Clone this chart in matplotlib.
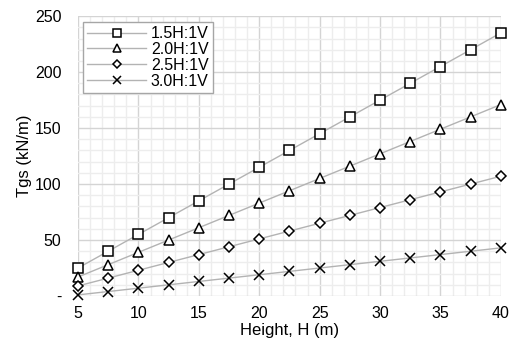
import numpy as np
import matplotlib
matplotlib.use('Agg')
from matplotlib import pyplot as plt
from matplotlib.ticker import MultipleLocator, FuncFormatter

plt.rcParams['font.family'] = ['Liberation Sans', 'DejaVu Sans']

height = [5, 7.5, 10, 12.5, 15, 17.5, 20, 22.5, 25, 27.5, 30, 32.5, 35, 37.5, 40]
slope_15 = [25, 40, 55, 70, 85, 100, 115, 130, 145, 160, 175, 190, 205, 220, 235]
slope_20 = [17, 28, 39, 50, 61, 72, 83, 94, 105, 116, 127, 138, 149, 160, 171]
slope_25 = [9, 16, 23, 30, 37, 44, 51, 58, 65, 72, 79, 86, 93, 100, 107]
slope_30 = [1, 4, 7, 10, 13, 16, 19, 22, 25, 28, 31, 34, 37, 40, 43]

labels = ['1.5H:1V', '2.0H:1V', '2.5H:1V', '3.0H:1V']
markers = ['s', '^', 'D', 'x']
sizes = [7.5, 7.5, 5.5, 7.5]

fig = plt.figure(figsize=(5.1, 3.43), dpi=100)
ax = fig.add_axes([0.153, 0.137, 0.829, 0.816])

for ys, lab, m, ms in zip([slope_15, slope_20, slope_25, slope_30], labels, markers, sizes):
    ax.plot(height, ys, color='#b3b3b3', lw=1.0, marker=m, ms=ms,
            mfc='white', mec='black', mew=1.1, label=lab, zorder=3, clip_on=False)

ax.set_xlim(5, 40)
ax.set_ylim(0, 250)
ax.xaxis.set_major_locator(MultipleLocator(5))
ax.xaxis.set_minor_locator(MultipleLocator(1))
ax.yaxis.set_major_locator(MultipleLocator(50))
ax.yaxis.set_minor_locator(MultipleLocator(10))
ax.yaxis.set_major_formatter(FuncFormatter(lambda v, p: '-' if v == 0 else f'{int(v)}'))

ax.grid(which='major', color='#d4d4d4', lw=1.0, zorder=0)
ax.grid(which='minor', color='#ededed', lw=1.0, zorder=0)
ax.set_axisbelow(True)
for s in ax.spines.values():
    s.set_visible(False)
ax.tick_params(which='both', length=0, labelsize=11.5)
ax.tick_params(axis='x', pad=7)
ax.tick_params(axis='y', pad=12)

ax.set_xlabel('Height, H (m)', fontsize=12, labelpad=1.5)
ax.set_ylabel('Tgs (kN/m)', fontsize=12, labelpad=2)

leg = ax.legend(loc='upper left', bbox_to_anchor=(5 / 423, 1 - 6 / 280), borderaxespad=0,
                fontsize=11.5, handlelength=3.7, handletextpad=0.3, labelspacing=0.05,
                borderpad=0.25, fancybox=False, framealpha=1, markerscale=0.75)
leg.get_frame().set_edgecolor('#a6a6a6')
leg.get_frame().set_linewidth(1.0)

fig.savefig('out.png', dpi=100)
